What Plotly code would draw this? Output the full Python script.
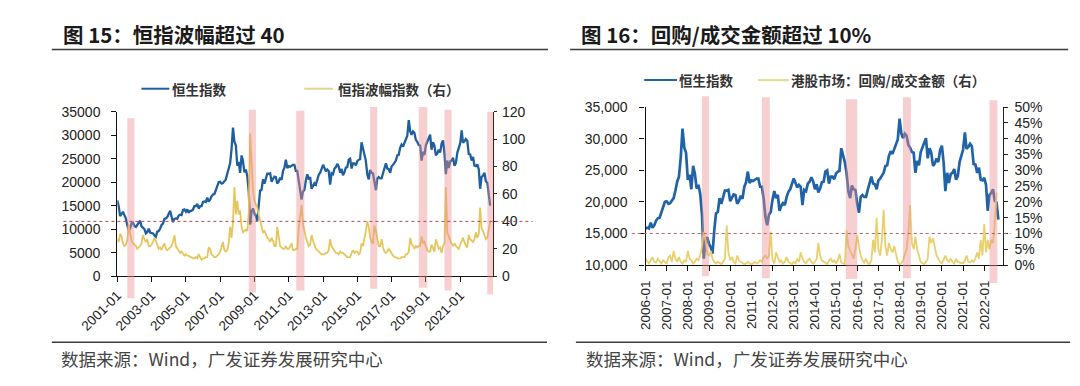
import pandas as pd
import plotly.graph_objects as go

# ---------------- data ----------------
# Hang Seng Index, monthly, 2001-01 .. 2022-10
hsi = [
    16100, 14800, 12800, 13400, 13700, 13000, 12300, 10900, 9600, 10200, 11300, 11400,
    10700, 10500, 11000, 11500, 11800, 10600, 10300, 10000, 9100, 9400, 10100, 9300,
    9200, 9100, 8700, 8400, 9500, 9600, 10100, 10900, 11200, 12200, 12300, 12600,
    13300, 13900, 12700, 11500, 12200, 12300, 12200, 12900, 13100, 13000, 14100, 14200,
    13700, 14200, 13500, 13900, 13900, 14200, 14900, 14900, 15400, 14400, 14900, 14900,
    15800, 15900, 15800, 16700, 15900, 16300, 17000, 17400, 17500, 18300, 19000, 20000,
    20100, 19700, 19800, 20300, 20600, 21800, 23200, 24000, 27100, 31600, 28600, 27800,
    23500, 24300, 22000, 25700, 24500, 22100, 22700, 21300, 18000, 11000, 13900, 14400,
    13300, 12800, 11800, 15500, 18200, 18400, 20600, 19700, 21000, 21800, 21800, 21900,
    20100, 20600, 21200, 21100, 19700, 20100, 21000, 20500, 22400, 23100, 24800, 23000,
    23400, 23300, 23500, 23700, 23700, 22400, 22400, 20500, 17600, 16300, 18000, 18400,
    20400, 21700, 20600, 21100, 18600, 19400, 19800, 19500, 20800, 21600, 22000, 22700,
    23700, 23000, 22300, 22700, 22400, 19500, 21900, 21700, 22900, 23200, 23900, 23300,
    22000, 22800, 21500, 22100, 23100, 23200, 24800, 25000, 22900, 24000, 24000, 23600,
    24500, 24800, 24900, 28500, 27400, 26300, 24600, 21700, 20600, 22600, 22000, 21900,
    19700, 18300, 20800, 21100, 20800, 20800, 21900, 23000, 24000, 22900, 22800, 22000,
    23400, 23700, 24100, 24600, 25700, 25800, 27300, 28000, 27600, 28300, 29200, 29900,
    33200, 30800, 30100, 30800, 30500, 29000, 28600, 27900, 27800, 24600, 26500, 25800,
    27900, 28600, 29100, 30100, 26900, 28500, 27800, 25700, 26100, 26900, 26300, 28200,
    28900, 26100, 21700, 24600, 23000, 24400, 24600, 25200, 23500, 24100, 26300, 27200,
    28300, 31000, 28400, 28700, 29200, 28800, 26000, 25900, 24600, 25400, 23500, 23400,
    23800, 22700, 18600, 21100, 21400, 22000, 20200, 19900, 17200, 15000,
]
hsi_start = "2001-01-01"

# HSI Volatility Index (right axis of chart 15), monthly 2001-01 .. 2022-10
vhsi = [
    27, 25, 31, 29, 24, 22, 23, 26, 37, 30, 26, 24,
    23, 22, 20, 21, 22, 24, 30, 27, 25, 27, 22, 22,
    23, 25, 28, 26, 22, 20, 21, 19, 22, 24, 20, 19,
    20, 21, 22, 25, 30, 22, 20, 18, 17, 18, 16, 15,
    16, 15, 15, 14, 14, 13, 13, 14, 13, 16, 14, 12,
    13, 13, 14, 14, 21, 20, 16, 15, 14, 14, 15, 16,
    18, 22, 25, 19, 18, 19, 24, 36, 28, 40, 65, 45,
    55, 45, 48, 36, 32, 33, 34, 33, 47, 104, 78, 62,
    55, 52, 50, 45, 40, 36, 32, 33, 30, 28, 27, 25,
    28, 26, 22, 22, 36, 28, 22, 21, 20, 20, 22, 20,
    20, 22, 24, 19, 19, 20, 20, 35, 45, 52, 38, 32,
    28, 25, 22, 23, 30, 26, 23, 20, 19, 18, 17, 16,
    16, 16, 17, 17, 19, 27, 22, 20, 19, 17, 17, 16,
    18, 17, 17, 16, 15, 14, 14, 14, 17, 19, 17, 18,
    18, 16, 17, 24, 22, 27, 33, 40, 36, 28, 25, 24,
    37, 33, 26, 22, 22, 27, 21, 18, 17, 18, 20, 18,
    16, 15, 14, 14, 13, 13, 13, 14, 14, 14, 16, 16,
    18, 28, 24, 22, 20, 22, 21, 22, 22, 29, 24, 25,
    21, 19, 18, 18, 23, 20, 18, 27, 23, 20, 21, 17,
    22, 24, 65, 32, 29, 26, 24, 22, 24, 22, 21, 20,
    23, 26, 28, 25, 22, 21, 30, 27, 26, 25, 27, 32,
    28, 31, 50, 35, 33, 30, 27, 28, 33, 40,
]

# HK market buyback / turnover ratio (%), monthly 2006-01 .. 2022-08
buyback_pct = [
    2.0, 1.0, 0.5, 1.5, 2.5, 1.0, 0.8, 2.0, 1.0, 0.5, 1.5, 1.0,
    0.5, 2.5, 3.0, 1.0, 4.5, 2.0, 1.0, 2.5, 1.0, 0.5, 1.5, 1.0,
    4.5, 2.0, 1.5, 0.5, 1.0, 2.0, 1.5, 3.0, 6.0, 10.5, 8.0, 3.5,
    3.0, 4.5, 2.0, 1.0, 0.5, 1.0, 0.5, 0.3, 1.0, 2.0, 12.5, 4.0,
    1.5, 2.5, 1.0, 0.5, 3.0, 1.5, 1.0, 0.5, 0.3, 0.5, 1.0, 0.5,
    0.3, 0.5, 1.0, 0.5, 0.8, 1.5, 1.0, 2.5, 3.0, 2.0, 3.0, 10.5,
    1.5, 0.5, 4.0, 2.5, 1.0, 1.5, 0.5, 1.0, 2.5, 1.0, 0.5, 0.3,
    1.0, 0.5, 2.0, 1.0, 4.0, 2.0, 1.0, 0.5, 1.5, 2.0, 1.0, 0.5,
    1.0, 2.0, 7.0, 3.0, 1.5, 1.0, 0.5, 0.3, 1.5, 2.0, 1.0, 1.5,
    0.5, 1.5, 3.5, 0.8, 0.5, 0.3, 11.0, 6.0, 4.5, 3.0, 2.0, 5.0,
    9.5, 6.0, 3.0, 1.5, 0.8, 2.0, 0.5, 0.3, 1.5, 8.0, 4.0, 15.0,
    5.0, 3.0, 8.0, 17.5, 6.0, 3.0, 7.0, 5.0, 4.0, 6.0, 3.0, 1.0,
    0.3, 0.5, 1.5, 3.0, 5.0, 10.0, 19.0, 7.0, 5.0, 9.0, 5.0, 3.0,
    1.0, 0.5, 0.3, 1.0, 2.0, 9.0, 7.0, 8.5, 5.0, 3.0, 2.0, 1.0,
    0.5, 2.0, 3.0, 1.5, 1.0, 2.0, 1.0, 0.5, 2.0, 1.0, 0.8, 0.5,
    0.5, 1.5, 3.0, 1.0, 0.8, 1.5, 1.0, 2.0, 4.0, 2.0, 8.0, 3.0,
    13.0, 4.0, 8.0, 5.0, 8.0, 7.0, 13.0, 23.0,
]
buyback_start = "2006-01-01"
right_hsi_end = "2022-09-01"

# highlighted periods (pink bands)
bands_left = [("2001-08-01", "2002-01-01"), ("2008-09-01", "2009-02-01"),
              ("2011-06-10", "2011-12-01"), ("2015-10-01", "2016-03-01"),
              ("2018-08-01", "2019-02-01"), ("2020-02-01", "2020-07-01"),
              ("2022-08-01", "2023-01-01")]
bands_right = [("2008-09-01", "2009-01-01"), ("2011-07-01", "2011-11-15"),
               ("2015-06-20", "2016-01-01"), ("2018-03-01", "2018-07-15"),
               ("2022-04-01", "2022-08-15")]
vhsi_threshold = 40
buyback_threshold = 0.10

title_left = "图 15：恒指波幅超过 40"
title_right = "图 16：回购/成交金额超过 10%"
name_hsi = "恒生指数"
name_vhsi = "恒指波幅指数（右）"
name_buyback = "港股市场：回购/成交金额（右）"
source_text = "数据来源：Wind，广发证券发展研究中心"

# ---------------- geometry helpers ----------------
# The page has an 8px body margin; the figure is sized so the page is 1080x386.
PAGE_W, PAGE_H, OFF = 1080, 386, 8
W, H = PAGE_W - 2 * OFF, PAGE_H - 2 * OFF
def px(x):
    return (x - OFF) / W
def py(y):
    return 1 - (y - OFF) / H

dates_left = pd.date_range(hsi_start, periods=len(hsi), freq="MS")
dates_bb = pd.date_range(buyback_start, periods=len(buyback_pct), freq="MS")
hsi_s = pd.Series(hsi, index=dates_left)
hsi_right = hsi_s[buyback_start:right_hsi_end]
buyback = [v / 100 for v in buyback_pct]

BLUE = "#1F5F9E"
BLUE2 = "#2063A6"
YEL = "#E6C65C"
YEL2 = "#E9D06C"
TICKFONT = dict(family="Liberation Sans, Arial", size=14, color="#222")
XTICKFONT = dict(family="Liberation Sans, Arial", size=13.5, color="#222")
CJK = "Noto Sans CJK SC"

fig = go.Figure()
fig.add_trace(go.Scatter(x=dates_left, y=hsi, name=name_hsi, mode="lines",
                         line=dict(color=BLUE, width=2.3), xaxis="x", yaxis="y",
                         showlegend=False))
fig.add_trace(go.Scatter(x=dates_left, y=vhsi, name=name_vhsi, mode="lines",
                         line=dict(color=YEL, width=1.8), xaxis="x", yaxis="y2",
                         showlegend=False))
fig.add_trace(go.Scatter(x=hsi_right.index, y=hsi_right.values, name=name_hsi, mode="lines",
                         line=dict(color=BLUE2, width=2.7), xaxis="x2", yaxis="y3",
                         showlegend=False))
fig.add_trace(go.Scatter(x=dates_bb, y=buyback, name=name_buyback, mode="lines",
                         line=dict(color=YEL2, width=1.8), xaxis="x2", yaxis="y4",
                         showlegend=False))

axis_common = dict(showgrid=False, zeroline=False, showline=True, linewidth=1.2,
                   ticks="outside", tickwidth=1.2)

fig.update_layout(
    width=W, height=H,
    margin=dict(l=0, r=0, t=0, b=0),
    paper_bgcolor="white", plot_bgcolor="white",
    showlegend=False,
    xaxis=dict(**axis_common, domain=[px(81), px(471)], anchor="y",
               range=["2001-01-01", "2022-12-01"], type="date",
               tick0="2001-01-01", dtick="M24", tickformat="%Y-%m",
               tickangle=-45, ticklen=5, linecolor="#111", tickcolor="#111",
               tickfont=XTICKFONT),
    yaxis=dict(**axis_common, domain=[py(280), py(108)], anchor="x",
               range=[0, 35000], dtick=5000, tickformat="d", ticklen=5,
               linecolor="#111", tickcolor="#111", tickfont=TICKFONT,
               ticklabelstandoff=8),
    yaxis2=dict(**axis_common, overlaying="y", side="right", anchor="x",
                range=[0, 120], dtick=20, ticklen=3, linecolor="#3a2020",
                tickcolor="#3a2020", tickfont=TICKFONT, ticklabelstandoff=2),
    xaxis2=dict(**axis_common, domain=[px(629.3), px(1000)], anchor="y3",
                range=["2006-01-01", "2022-11-14"], type="date",
                tick0="2006-01-01", dtick="M12", tickformat="%Y-%m",
                tickangle=-90, ticklen=5, linecolor="#111", tickcolor="#111",
                tickfont=XTICKFONT, ticklabelstandoff=4),
    yaxis3=dict(**axis_common, domain=[py(268.3), py(103.3)], anchor="x2",
                range=[10000, 35000], dtick=5000, tickformat=",d", ticklen=5,
                linecolor="#111", tickcolor="#111", tickfont=TICKFONT,
                ticklabelstandoff=9),
    yaxis4=dict(**axis_common, overlaying="y3", side="right", anchor="x2",
                range=[0, 0.5], dtick=0.05, tickformat=".0%", ticklen=4,
                linecolor="#222", tickcolor="#222", tickfont=TICKFONT,
                ticklabelstandoff=4),
)

shapes = []
# pink highlight bands
left_band_px = [(115, 303), (106, 297), (107, 295), (103, 293), (103, 292), (106, 295), (108, 299)]
for (a, b), (t, btm) in zip(bands_left, left_band_px):
    shapes.append(dict(type="rect", xref="x", yref="paper", x0=a, x1=b,
                       y0=py(btm), y1=py(t), line=dict(width=0),
                       fillcolor="rgba(238,140,145,0.42)", layer="above"))
right_band_px = [(92, 280), (93, 282), (95, 283), (93, 282), (96, 287)]
for (a, b), (t, btm) in zip(bands_right, right_band_px):
    shapes.append(dict(type="rect", xref="x2", yref="paper", x0=a, x1=b,
                       y0=py(btm), y1=py(t), line=dict(width=0),
                       fillcolor="rgba(238,140,145,0.42)", layer="above"))
# threshold dashed lines
shapes.append(dict(type="line", xref="paper", yref="y2", x0=px(25), x1=px(512),
                   y0=vhsi_threshold, y1=vhsi_threshold,
                   line=dict(color="#B44A58", width=1, dash="3px,3px"), layer="above"))
shapes.append(dict(type="line", xref="paper", yref="y4", x0=px(615), x1=px(1008),
                   y0=buyback_threshold, y1=buyback_threshold,
                   line=dict(color="#B4606E", width=1, dash="3px,3px"), layer="above"))
# title rules and footer rules
for x0, x1, y in [(13, 528, 43), (551, 1068, 43), (13, 527, 349), (557, 1070, 349)]:
    shapes.append(dict(type="line", xref="paper", yref="paper", x0=px(x0), x1=px(x1),
                       y0=py(y), y1=py(y), line=dict(color="#3a3a3a", width=1.5)))
# legend samples
for x0, x1, y, c in [(106, 135, 84, BLUE), (275, 305, 84, "#E6D38E"),
                     (628, 662, 75, BLUE2), (746, 778, 75, "#E4DC8C")]:
    shapes.append(dict(type="line", xref="paper", yref="paper", x0=px(x0), x1=px(x1),
                       y0=py(y), y1=py(y), line=dict(color=c, width=2)))
fig.update_layout(shapes=shapes)

ann = []
def text(x, y, s, size, bold=False, color="#333", family=CJK):
    ann.append(dict(xref="paper", yref="paper", x=px(x), y=py(y),
                    text=f"<b>{s}</b>" if bold else s,
                    showarrow=False, xanchor="left", yanchor="middle", borderpad=0,
                    font=dict(family=family, size=size, color=color)))
text(24, 27, title_left, 20.5, bold=True, color="#1a1a1a")
text(561, 27, title_right, 20.5, bold=True, color="#1a1a1a")
text(137, 84, name_hsi, 13.5, bold=True, color="#333")
text(309, 84, name_vhsi, 13.5, bold=True, color="#333")
text(663, 75, name_hsi, 13.5, bold=True, color="#333")
text(779, 75, name_buyback, 13.5, bold=True, color="#333")
text(22, 366, source_text, 17.5, color="#444")
text(566, 366, source_text, 17.5, color="#444")
fig.update_layout(annotations=ann)

fig.write_html("out.html")
